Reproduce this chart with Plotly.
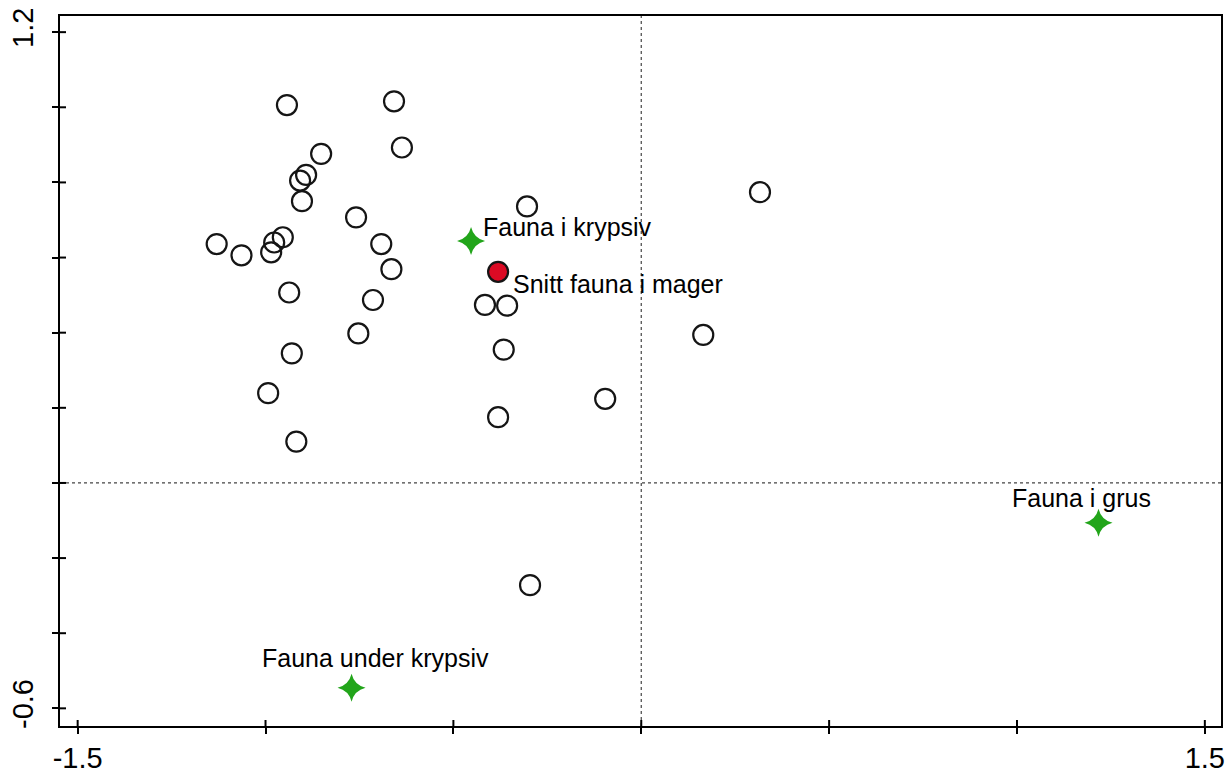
import plotly.graph_objects as go

# Sample scores on the first two ordination axes
sample_x = [-0.943, -0.658, -0.637, -0.852, -0.892, -0.908, -0.903, 0.316,
            -0.304, -0.759, -1.130, -1.064, -0.977, -0.954, -0.985, -0.692,
            -0.665, -0.937, -0.714, -0.416, -0.357, -0.753, 0.165, -0.930,
            -0.366, -0.993, -0.096, -0.381, -0.918, -0.296]
sample_y = [1.006, 1.016, 0.893, 0.876, 0.820, 0.805, 0.750, 0.774,
            0.736, 0.707, 0.636, 0.606, 0.640, 0.654, 0.614, 0.636,
            0.569, 0.507, 0.487, 0.474, 0.472, 0.398, 0.394, 0.345,
            0.355, 0.239, 0.224, 0.175, 0.110, -0.272]

# Mean position of stomach fauna
mean_x = [-0.381]
mean_y = [0.562]
mean_label = ["Snitt fauna i mager"]

# Habitat fauna centroids
hab_x = [-0.453, 1.217, -0.771]
hab_y = [0.644, -0.106, -0.545]
hab_labels = ["Fauna i krypsiv", "Fauna i grus", "Fauna under krypsiv"]

x_ticks = [-1.5, -1.0, -0.5, 0.0, 0.5, 1.0, 1.5]
x_ticktext = ["-1.5", "", "", "", "", "", "1.5"]
y_ticks = [-0.6, -0.4, -0.2, 0.0, 0.2, 0.4, 0.6, 0.8, 1.0, 1.2]
y_ticktext = ["-0.6", "", "", "", "", "", "", "", "", "1.2"]

x_range = [-1.547, 1.543]
y_range = [-0.647, 1.243]

FONT = "Liberation Sans, Arial, sans-serif"
green = "#22a51a"
TICK_LEN = 6

fig = go.Figure()

fig.add_trace(go.Scatter(
    x=sample_x, y=sample_y, mode="markers",
    marker=dict(symbol="circle-open", size=20, color="#151515",
                line=dict(width=2.2, color="#151515")),
    hoverinfo="x+y", showlegend=False))

fig.add_trace(go.Scatter(
    x=mean_x, y=mean_y, mode="markers",
    marker=dict(symbol="circle", size=20, color="#dc0a24",
                line=dict(width=2.2, color="#151515")),
    showlegend=False))

fig.add_trace(go.Scatter(
    x=hab_x, y=hab_y, mode="markers",
    marker=dict(symbol="star-diamond", size=20, color=green,
                line=dict(width=0)),
    showlegend=False))

# Labels next to the mean and centroid markers
label_style = dict(showarrow=False, font=dict(family=FONT, size=25, color="black"))
fig.add_annotation(x=mean_x[0], y=mean_y[0], text=mean_label[0],
                   xanchor="left", yanchor="middle", xshift=13, yshift=-12,
                   **label_style)
fig.add_annotation(x=hab_x[0], y=hab_y[0], text=hab_labels[0],
                   xanchor="left", yanchor="middle", xshift=10, yshift=14,
                   **label_style)
fig.add_annotation(x=hab_x[1], y=hab_y[1], text=hab_labels[1],
                   xanchor="center", yanchor="middle", xshift=-17, yshift=25,
                   **label_style)
fig.add_annotation(x=hab_x[2], y=hab_y[2], text=hab_labels[2],
                   xanchor="center", yanchor="middle", xshift=24, yshift=30,
                   **label_style)

# Dotted reference lines through the origin
dot = dict(color="#444444", width=1.2, dash="dot")
fig.add_shape(type="line", xref="x", yref="paper", x0=0, x1=0, y0=0, y1=1,
              line=dot, layer="below")
fig.add_shape(type="line", xref="paper", yref="y", x0=0, x1=1, y0=0, y1=0,
              line=dot, layer="below")

# Inward halves of the tick marks, so each tick crosses the axis line
tick_line = dict(color="black", width=2)
for v in x_ticks:
    fig.add_shape(type="line", xref="x", x0=v, x1=v,
                  yref="paper", ysizemode="pixel", yanchor=0,
                  y0=0, y1=TICK_LEN, line=tick_line)
for v in y_ticks:
    fig.add_shape(type="line", yref="y", y0=v, y1=v,
                  xref="paper", xsizemode="pixel", xanchor=0,
                  x0=0, x1=TICK_LEN, line=tick_line)


def axis(rng, vals, text, **extra):
    return dict(range=rng, tickmode="array", tickvals=vals, ticktext=text,
                showgrid=False, zeroline=False, automargin=False,
                showline=True, linewidth=2, linecolor="black", mirror=True,
                ticks="outside", ticklen=TICK_LEN, tickwidth=2,
                tickcolor="black",
                tickfont=dict(family=FONT, size=29, color="black"),
                **extra)


fig.update_layout(
    width=1227, height=774,
    margin=dict(l=60, r=6, t=16, b=48),
    plot_bgcolor="white", paper_bgcolor="white",
    xaxis=axis(x_range, x_ticks, x_ticktext, ticklabelstandoff=-1),
    yaxis=axis(y_range, y_ticks, y_ticktext, tickangle=-90,
               ticklabelstandoff=7),
)

fig.write_html("out.html")
